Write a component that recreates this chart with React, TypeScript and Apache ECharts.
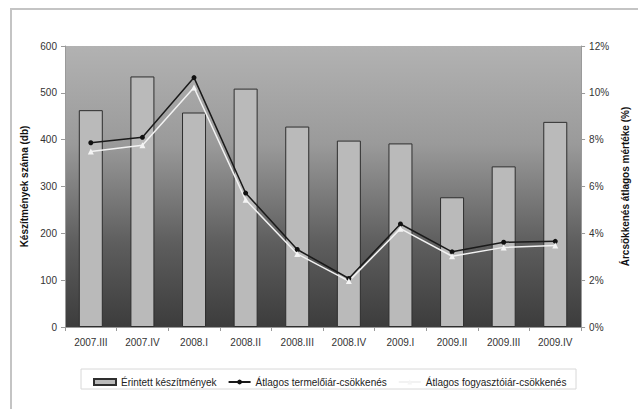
import React, { useEffect, useRef } from "react";
import * as echarts from "echarts";

const categories = ["2007.III", "2007.IV", "2008.I", "2008.II", "2008.III", "2008.IV", "2009.I", "2009.II", "2009.III", "2009.IV"];
const affectedProducts = [463, 535, 458, 509, 428, 398, 392, 277, 343, 438];
const producerPriceCut = [7.87, 8.1, 10.65, 5.72, 3.31, 2.07, 4.4, 3.21, 3.62, 3.66];
const consumerPriceCut = [7.49, 7.76, 10.23, 5.43, 3.12, 1.96, 4.2, 3.02, 3.4, 3.48];
const countTicks = [0, 100, 200, 300, 400, 500, 600];
const percentTicks = [0, 2, 4, 6, 8, 10, 12];

const FONT = "'Liberation Sans', Arial, sans-serif";

export default function App() {
  const ref = useRef<HTMLDivElement>(null);

  useEffect(() => {
    if (!ref.current) return;
    const chart = echarts.init(ref.current, undefined, { renderer: "svg" });
    const axisText = { color: "#333", fontSize: 10, fontFamily: FONT };
    chart.setOption({
      animation: false,
      backgroundColor: "#ffffff",
      textStyle: { fontFamily: FONT },
      graphic: [
        {
          type: "rect",
          z: -10,
          shape: { x: 11, y: 9, width: 660, height: 420 },
          style: { fill: "#ffffff", stroke: "#c4c4c4", lineWidth: 2 },
        },
        {
          type: "rect",
          z: -5,
          shape: { x: 81, y: 369, width: 495, height: 20 },
          style: { fill: "#ffffff", stroke: "#d8d8d8", lineWidth: 1 },
        },
      ],
      grid: {
        left: 65,
        right: 54,
        top: 46,
        bottom: 82,
        show: true,
        borderWidth: 0,
        backgroundColor: new echarts.graphic.LinearGradient(0, 0, 0, 1, [
          { offset: 0, color: "#b2b2b2" },
          { offset: 0.35, color: "#9a9a9a" },
          { offset: 0.7, color: "#5e5e5e" },
          { offset: 1, color: "#3c3c3c" },
        ]),
      },
      legend: {
        left: 88,
        top: 372,
        itemWidth: 22,
        itemHeight: 6,
        itemGap: 11,
        textStyle: { color: "#222", fontSize: 10, fontFamily: FONT },
        data: [
          { name: "Érintett készítmények", icon: "rect" },
          { name: "Átlagos termelőiár-csökkenés" },
          { name: "Átlagos fogyasztóiár-csökkenés" },
        ],
      },
      xAxis: {
        type: "category",
        data: categories,
        axisLine: { lineStyle: { color: "#9a9a9a", width: 1 } },
        axisTick: { show: true, inside: false, length: 4, lineStyle: { color: "#9a9a9a" } },
        axisLabel: { ...axisText, margin: 10 },
      },
      yAxis: [
        {
          type: "value",
          min: countTicks[0],
          max: countTicks[countTicks.length - 1],
          interval: 100,
          name: "Készítmények száma (db)",
          nameLocation: "middle",
          nameGap: 34,
          nameRotate: 90,
          nameTextStyle: { color: "#111", fontSize: 10, fontWeight: "bold", fontFamily: FONT },
          axisLine: { show: true, lineStyle: { color: "#9a9a9a" } },
          axisTick: { show: true, length: 4, lineStyle: { color: "#9a9a9a" } },
          axisLabel: { ...axisText, margin: 8 },
          splitLine: { show: false },
        },
        {
          type: "value",
          min: percentTicks[0],
          max: percentTicks[percentTicks.length - 1],
          interval: 2,
          position: "right",
          name: "Árcsökkenés átlagos mértéke (%)",
          nameLocation: "middle",
          nameGap: 36,
          nameRotate: 90,
          nameTextStyle: { color: "#111", fontSize: 10, fontWeight: "bold", fontFamily: FONT },
          axisLine: { show: true, lineStyle: { color: "#9a9a9a" } },
          axisTick: { show: true, length: 4, lineStyle: { color: "#9a9a9a" } },
          axisLabel: { ...axisText, margin: 8, formatter: (v: number) => `${v}%` },
          splitLine: { show: false },
        },
      ],
      series: [
        {
          name: "Érintett készítmények",
          type: "bar",
          data: affectedProducts,
          barWidth: 24,
          itemStyle: { color: "#bababa", borderColor: "#2e2e2e", borderWidth: 1 },
        },
        {
          name: "Átlagos termelőiár-csökkenés",
          type: "line",
          yAxisIndex: 1,
          data: producerPriceCut,
          symbol: "circle",
          symbolSize: 5,
          lineStyle: { color: "#1a1a1a", width: 1.5 },
          itemStyle: { color: "#111111" },
        },
        {
          name: "Átlagos fogyasztóiár-csökkenés",
          type: "line",
          yAxisIndex: 1,
          data: consumerPriceCut,
          symbol: "triangle",
          symbolSize: 6,
          lineStyle: { color: "#f2f2f2", width: 1.5 },
          itemStyle: { color: "#f4f4f4" },
        },
      ],
    });
    return () => chart.dispose();
  }, []);

  return (
    <div
      ref={ref}
      style={{ position: "absolute", left: 0, top: 0, width: 638, height: 409 }}
    />
  );
}
